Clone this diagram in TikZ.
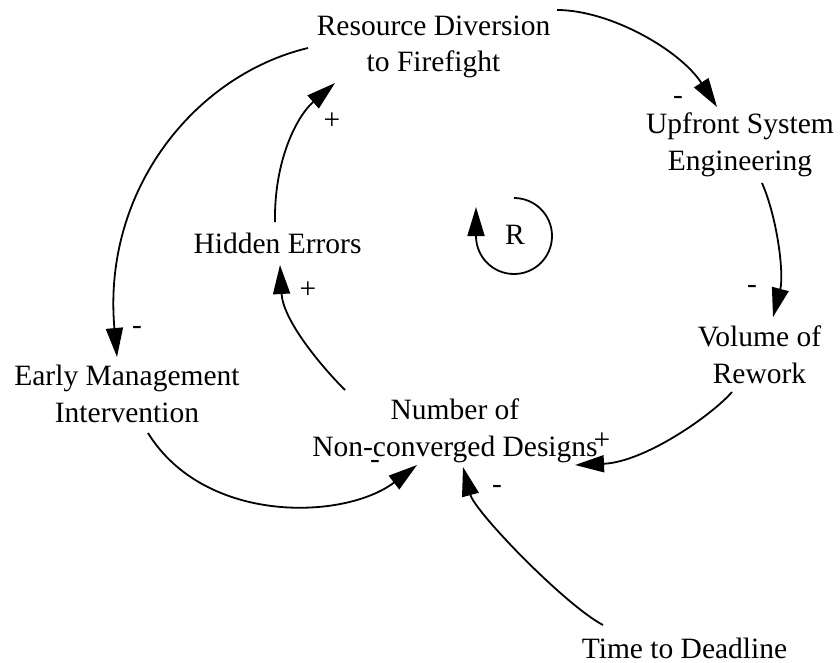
\documentclass[tikz,border=0pt]{standalone}
\usepackage{fontspec}
\setmainfont{Liberation Serif}
\usetikzlibrary{arrows.meta,calc}
\tikzset{
  var/.style={inner sep=0pt, align=center, font=\fontsize{29.5}{36.5}\selectfont},
  pol/.style={inner sep=0pt, font=\fontsize{29.5}{36.5}\selectfont},
  link/.style={line width=1.8pt, -{Triangle[length=29pt,width=17pt]}},
}
\begin{document}
\begin{tikzpicture}[x=1pt,y=-1pt]
\useasboundingbox (0,0) rectangle (840,662);
% variables
\node[var] (rd)  at (433.5,46.7)  {Resource Diversion\\to Firefight};
\node[var] (use) at (740,144.7)   {Upfront System\\Engineering};
\node[var] (vr)  at (759.5,354.5) {Volume of\\Rework};
\node[var] (nd)  at (455,430.7)   {Number of\\Non-converged Designs};
\node[var] (em)  at (127,394.1)   {Early Management\\Intervention};
\node[var] (he)  at (277.5,243.1) {Hidden Errors};
\node[var] (td)  at (684.5,648.1) {Time to Deadline};
\node[var] (R)   at (515,235.2)   {R};
% links
\draw[link] ($(rd)+(123.5,-36.7)$) .. controls +(53,0) and +(-37,-57) .. ($(use)+(-23,-37.7)$);
\draw[link] ($(use)+(22,38.3)$) .. controls +(16,37) and +(11,-42) .. ($(vr)+(13.5,-37.5)$);
\draw[link] ($(vr)+(-27.5,37.5)$) .. controls +(-20,23) and +(70,-3) .. ($(nd)+(120,34.3)$);
\draw[link] ($(td)+(-81.5,-23.1)$) .. controls +(-38,-20) and +(12,45) .. ($(nd)+(8,36.3)$);
\draw[link] ($(em)+(21,38.9)$) .. controls +(57,92) and +(-72,55) .. ($(nd)+(-38,34.3)$);
\draw[link] ($(nd)+(-110,-40.7)$) .. controls +(-25,-25) and +(3,55) .. ($(he)+(2.5,21.9)$);
\draw[link] ($(he)+(-2.5,-21.1)$) .. controls +(-1,-62) and +(-38,33) .. ($(rd)+(-98.5,36.3)$);
\draw[link] ($(rd)+(-125.5,1.3)$) .. controls +(-113,27) and +(-15,-167) .. ($(em)+(-10,-37.1)$);
% loop symbol
\draw[link] ($(R)+(-1,-37.2)$) arc[start angle=-90, end angle=180, radius=38] -- ++(0,-29);
% polarities
\node[pol] (l1) at (678,100.8) {-};
\node[pol] (l2) at (752,289.8) {-};
\node[pol] (l3) at (602,441)   {+};
\node[pol] (l4) at (497,489.8) {-};
\node[pol] (l5) at (375,464.8) {-};
\node[pol] (l6) at (308,290)   {+};
\node[pol] (l7) at (332,121)   {+};
\node[pol] (l8) at (137,330.8) {-};
\end{tikzpicture}
\end{document}
